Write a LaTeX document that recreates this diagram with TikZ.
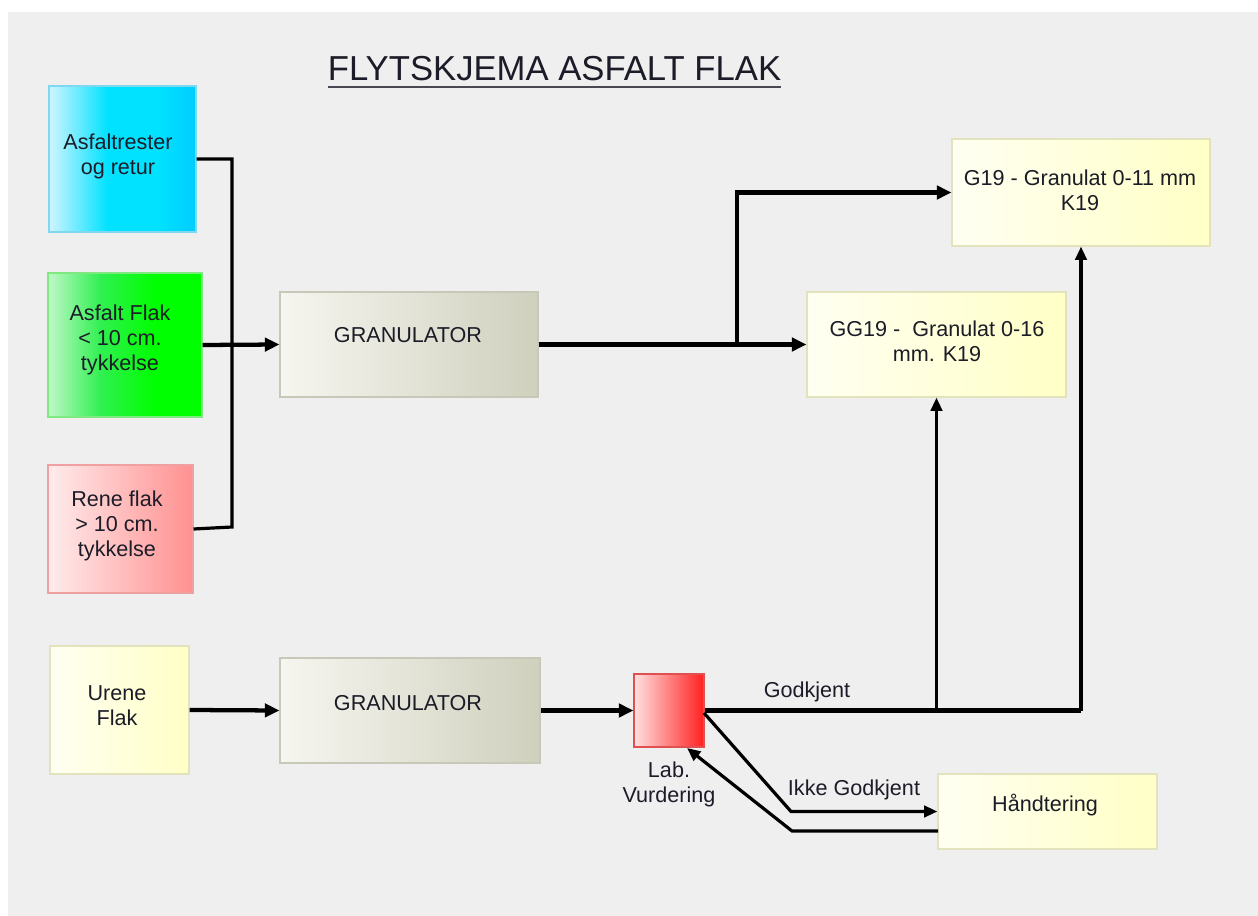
\documentclass[tikz,border=0pt]{standalone}
\usepackage{fontspec}
\setmainfont{Liberation Sans}
\usetikzlibrary{arrows.meta,fit}
\definecolor{panel}{HTML}{EFEFEF}
\definecolor{txt}{HTML}{1C1C28}
\definecolor{cyanL}{HTML}{D0F4FF}
\definecolor{cyanM}{HTML}{00E2FF}
\definecolor{cyanR}{HTML}{00CCFF}
\definecolor{cyanB}{HTML}{80D8F0}
\definecolor{greenL}{HTML}{C0F8C8}
\definecolor{greenM}{HTML}{30F050}
\definecolor{greenR}{HTML}{00FF00}
\definecolor{greenB}{HTML}{80E880}
\definecolor{pinkL}{HTML}{FFECEC}
\definecolor{pinkR}{HTML}{FF9090}
\definecolor{pinkB}{HTML}{F0A0A0}
\definecolor{granL}{HTML}{F6F6F0}
\definecolor{granR}{HTML}{D0D0BE}
\definecolor{granB}{HTML}{C8C8B8}
\definecolor{yelL}{HTML}{FFFFF2}
\definecolor{yelR}{HTML}{FFFFC6}
\definecolor{yelB}{HTML}{E2E2BC}
\definecolor{labL}{HTML}{FFE0E0}
\definecolor{labR}{HTML}{FF2020}
\definecolor{labB}{HTML}{E05050}
\pgfdeclarehorizontalshading{cyanshade}{100bp}{color(0bp)=(cyanL); color(25bp)=(cyanL); color(45bp)=(cyanM); color(62bp)=(cyanM); color(75bp)=(cyanR); color(100bp)=(cyanR)}
\pgfdeclarehorizontalshading{greenshade}{100bp}{color(0bp)=(greenL); color(25bp)=(greenL); color(42bp)=(greenM); color(60bp)=(greenR); color(75bp)=(greenR); color(100bp)=(greenR)}
\begin{document}
\begin{tikzpicture}[x=0.75pt,y=-0.75pt,
  boxbase/.style={inner sep=0pt, line width=0.8pt},
  cyanbox/.style={boxbase, draw=cyanB, shading=cyanshade},
  greenbox/.style={boxbase, draw=greenB, shading=greenshade},
  pinkbox/.style={boxbase, draw=pinkB, left color=pinkL, right color=pinkR},
  granbox/.style={boxbase, draw=granB, left color=granL, right color=granR},
  yelbox/.style={boxbase, draw=yelB, left color=yelL, right color=yelR},
  labbox/.style={boxbase, draw=labB, left color=labL, right color=labR},
  lbl/.style={text=txt, align=center, inner sep=0pt, font=\fontsize{16.2}{18.75}\selectfont},
  thick arrow/.style={line width=3.2pt, -{Triangle[length=11pt,width=10pt]}},
  thin arrow/.style={line width=2.4pt, -{Triangle[length=10pt,width=8.5pt]}},
  thick line/.style={line width=3.2pt},
  thin line/.style={line width=2.4pt}
]
\useasboundingbox (0,0) rectangle (1258,916);
\fill[white] (0,0) rectangle (1258,916);
\fill[panel] (8,12) rectangle (1258,916);

% title
\node[text=txt, font=\fontsize{26}{30}\selectfont, anchor=base, inner sep=0pt] (title) at (554.5,81) {FLYTSKJEMA ASFALT FLAK};
\draw[line width=1.5pt, color=txt!80] (328,87.5) -- (781,87.5);

% boxes
\node[cyanbox, fit={(49,86) (196,232)}] (rest) {};
\node[greenbox, fit={(48,273) (202,417)}] (flak) {};
\node[pinkbox, fit={(48,465) (193,593)}] (rene) {};
\node[granbox, fit={(280,292) (538,397)}] (gran1) {};
\node[yelbox, fit={(50,646) (189,774)}] (urene) {};
\node[granbox, fit={(280,658) (540,763)}] (gran2) {};
\node[labbox, fit={(634,674) (704,747)}] (lab) {};
\node[yelbox, fit={(952,139) (1210,246)}] (g19) {};
\node[yelbox, fit={(807,292) (1066,397)}] (gg19) {};
\node[yelbox, fit={(938,774) (1157,849)}] (hand) {};

% box texts
\node[lbl] (restT) at (118,156) {Asfaltrester\\og retur};
\node[lbl] (flakT) at (120,340) {Asfalt Flak\\{<} 10 cm.\\tykkelse};
\node[lbl] (reneT) at (117,526) {Rene flak\\{>} 10 cm.\\tykkelse};
\node[lbl] (gran1T) at (408,335) {GRANULATOR};
\node[lbl] (ureneT) at (117,706) {Urene\\Flak};
\node[lbl] (gran2T) at (408,703) {GRANULATOR};
\node[lbl] (g19T) at (1080,190) {G19 - Granulat 0-11 mm\\K19};
\node[lbl] (gg19T) at (937,341) {GG19 -\ \ Granulat 0-16\\mm. K19};
\node[lbl] (handT) at (1045,805) {Håndtering};

% connector labels
\node[lbl] (godk) at (807,692) {Godkjent};
\node[lbl] (ikke) at (854,790) {Ikke Godkjent};
\node[lbl] (labT) at (669,784) {Lab.\\Vurdering};

% helper coordinates
\coordinate (busTop) at (232,159);
\coordinate (busBot) at (232,527);
\coordinate (brA) at (737,344.5);
\coordinate (ikkeK) at (791,811.5);
\coordinate (retA) at (938,831);
\coordinate (retK) at (792,831);
\coordinate (labIn) at (687,748);
\coordinate (labOut) at (704,713);

% connectors
\draw[thin line] (rest.east) -- (busTop) -- (busBot) -- (rene.east);
\draw[thick arrow] (flak.east) -- (gran1.west);
\draw[thick arrow] (gran1.east) -- (gg19.west);
\draw[thick arrow] (brA) |- (g19.west);
\draw[thick arrow] (urene.east) -- (gran2.west);
\draw[thick arrow] (gran2.east) -- (lab.west);
\draw[thick line] (lab.east) -- (lab.east -| g19.south);
\draw[thin arrow] (lab.east -| g19.south) -- (g19.south);
\draw[thin arrow] (lab.east -| gg19.south) -- (gg19.south);
\draw[thin arrow] (labOut) -- (ikkeK) -- (hand.west);
\draw[thin arrow] (retA) -- (retK) -- (labIn);
\end{tikzpicture}
\end{document}
